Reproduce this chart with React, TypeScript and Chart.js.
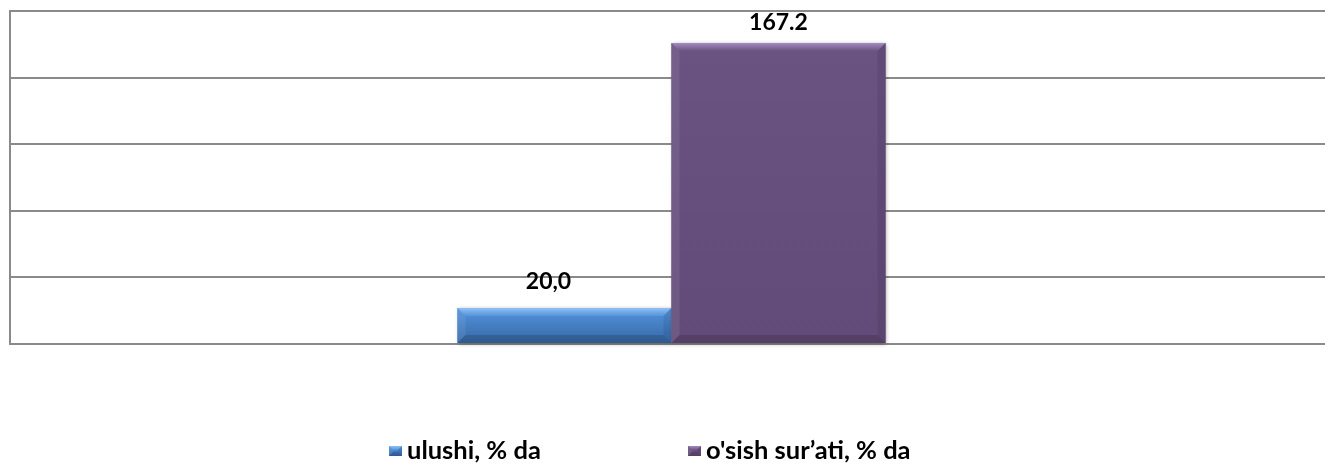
import React, { useEffect, useRef } from "react";
import { Chart, registerables } from "chart.js";

Chart.register(...registerables);

const categories = [""];
const seriesNames = ["ulushi, % da", "o'sish sur’ati, % da"];
const ulushiValues = [20.0];
const osishValues = [167.2];
const valueLabels = [["20,0"], ["167.2"]];
const yMax = 185;
const yStep = 37;

const FONT = "Lato, 'Open Sans', sans-serif";

type Palette = { body: string; light: string; dark: string; bevel: string };
const palettes: Palette[] = [
  { body: "#3f7cc4", light: "#5494dc", dark: "#3669a8", bevel: "#8fc0f2" },
  { body: "#68507f", light: "#6a5281", dark: "#624b79", bevel: "#a48cc2" },
];

function drawBevelBox(ctx: CanvasRenderingContext2D, left: number, top: number, right: number, bottom: number, p: Palette, b: number) {
  const g = ctx.createLinearGradient(0, top, 0, bottom);
  g.addColorStop(0, p.light);
  g.addColorStop(1, p.dark);
  ctx.fillStyle = g;
  ctx.fillRect(left, top, right - left, bottom - top);
  const bb = Math.min(b, (bottom - top) / 2, (right - left) / 2);
  const gt = ctx.createLinearGradient(0, top, 0, top + bb);
  gt.addColorStop(0, p.bevel);
  gt.addColorStop(1, p.light);
  ctx.fillStyle = gt;
  ctx.beginPath();
  ctx.moveTo(left, top);
  ctx.lineTo(right, top);
  ctx.lineTo(right - bb, top + bb);
  ctx.lineTo(left + bb, top + bb);
  ctx.closePath();
  ctx.fill();
  ctx.fillStyle = "rgba(255,255,255,0.08)";
  ctx.beginPath();
  ctx.moveTo(left, top);
  ctx.lineTo(left + bb, top + bb);
  ctx.lineTo(left + bb, bottom - bb);
  ctx.lineTo(left, bottom);
  ctx.closePath();
  ctx.fill();
  ctx.fillStyle = "rgba(0,0,0,0.08)";
  ctx.beginPath();
  ctx.moveTo(right, top);
  ctx.lineTo(right - bb, top + bb);
  ctx.lineTo(right - bb, bottom - bb);
  ctx.lineTo(right, bottom);
  ctx.closePath();
  ctx.fill();
  ctx.fillStyle = "rgba(0,0,0,0.14)";
  ctx.beginPath();
  ctx.moveTo(left, bottom);
  ctx.lineTo(right, bottom);
  ctx.lineTo(right - bb, bottom - bb);
  ctx.lineTo(left + bb, bottom - bb);
  ctx.closePath();
  ctx.fill();
}

const bevelBars = {
  id: "bevelBars",
  afterDatasetsDraw(chart: any) {
    const ctx = chart.ctx as CanvasRenderingContext2D;
    const opts = chart.options.plugins.bevelBars;
    chart.data.datasets.forEach((ds: any, i: number) => {
      const meta = chart.getDatasetMeta(i);
      meta.data.forEach((el: any, j: number) => {
        const left = el.x - el.width / 2;
        const right = el.x + el.width / 2;
        const top = Math.min(el.y, el.base);
        const bottom = Math.max(el.y, el.base);
        ctx.save();
        ctx.shadowColor = "rgba(0,0,0,0.35)";
        ctx.shadowBlur = 4;
        ctx.shadowOffsetX = 1;
        ctx.shadowOffsetY = 1;
        ctx.fillStyle = palettes[i].body;
        ctx.fillRect(left, top, right - left, bottom - top);
        ctx.restore();
        ctx.save();
        drawBevelBox(ctx, left, top, right, bottom, palettes[i], 8);
        ctx.restore();
        ctx.save();
        ctx.font = `bold ${opts.labelSize}px ${FONT}`;
        ctx.fillStyle = "#000";
        ctx.textAlign = "center";
        ctx.textBaseline = "middle";
        ctx.fillText(valueLabels[i][j], el.x + opts.labelDx[i], top - opts.labelDy[i]);
        ctx.restore();
      });
    });
  },
  afterDraw(chart: any) {
    const ctx = chart.ctx as CanvasRenderingContext2D;
    const opts = chart.options.plugins.bevelBars;
    const y = opts.legendY;
    chart.data.datasets.forEach((ds: any, i: number) => {
      const x = opts.legendStart + i * opts.legendColumn;
      ctx.save();
      drawBevelBox(ctx, x, y - 5, x + 13, y + 5, palettes[i], 4);
      ctx.font = `bold ${opts.legendSize}px ${FONT}`;
      ctx.fillStyle = "#000";
      ctx.textAlign = "left";
      ctx.textBaseline = "middle";
      ctx.fillText(ds.label, x + 18, y);
      ctx.restore();
    });
  },
};

export default function App() {
  const ref = useRef<HTMLCanvasElement | null>(null);
  useEffect(() => {
    if (!ref.current) return;
    const chart = new Chart(ref.current, {
      type: "bar",
      data: {
        labels: categories,
        datasets: [
          { label: seriesNames[0], data: ulushiValues, backgroundColor: "rgba(0,0,0,0)" },
          { label: seriesNames[1], data: osishValues, backgroundColor: "rgba(0,0,0,0)" },
        ],
      },
      options: {
        responsive: false,
        animation: false,
        layout: { padding: { left: 10, top: 11, right: 0, bottom: 120 } },
        datasets: { bar: { categoryPercentage: 0.3235, barPercentage: 1 } },
        scales: {
          x: { display: false },
          y: {
            min: 0,
            max: yMax,
            ticks: { display: false, stepSize: yStep },
            grid: { color: "#8a8a8a", lineWidth: 2, drawTicks: false },
            border: { display: true, color: "#8a8a8a", width: 2 },
          },
        },
        plugins: {
          legend: { display: false },
          tooltip: { enabled: false },
          bevelBars: {
            labelSize: 23,
            labelDx: [-16, 0],
            labelDy: [26, 20],
            legendSize: 25.5,
            legendY: 451,
            legendStart: 389,
            legendColumn: 299,
          },
        } as any,
      },
      plugins: [bevelBars],
    });
    return () => chart.destroy();
  }, []);
  return (
    <div style={{ position: "absolute", left: 0, top: 0, width: 1325, height: 464, overflow: "hidden", background: "#fff" }}>
      <canvas ref={ref} width={1333} height={464} />
    </div>
  );
}
